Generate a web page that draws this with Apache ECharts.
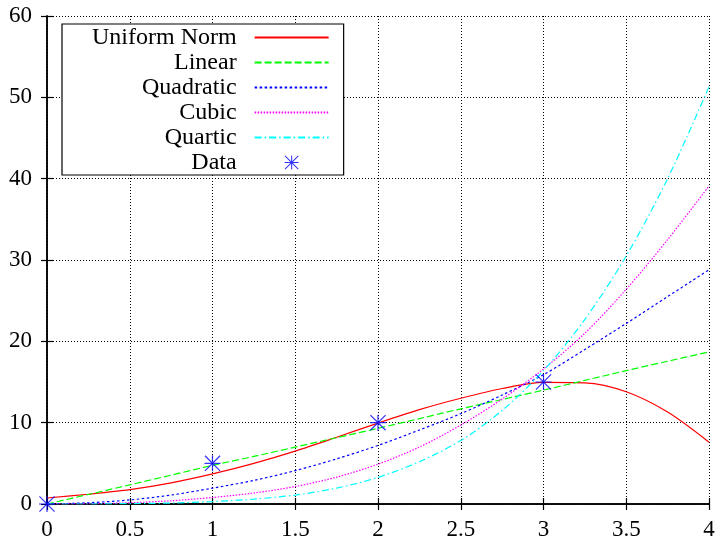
<!DOCTYPE html>
<html>
<head>
<meta charset="utf-8">
<script src="https://cdn.jsdelivr.net/npm/echarts@6/dist/echarts.min.js"></script>
<style>html,body{margin:0;padding:0;background:#fff}#c{width:719px;height:541px}</style>
</head>
<body>
<div id="c"></div>
<script>
const xValues = [0, 0.25, 0.5, 0.75, 1, 1.25, 1.5, 1.75, 2, 2.25, 2.5, 2.75, 3, 3.25, 3.5, 3.75, 4];
const uniformNorm = [0.74, 1.2, 1.76, 2.6, 3.7, 5.0, 6.5, 8.2, 9.95, 11.6, 13.0, 14.2, 14.95, 14.9, 13.8, 11.3, 7.6];
const linear = [0, 1.17, 2.35, 3.55, 4.75, 5.85, 7.0, 8.15, 9.3, 10.5, 11.7, 12.85, 14.0, 15.2, 16.4, 17.55, 18.7];
const quadratic = [0, 0.15, 0.5, 1.1, 1.95, 2.9, 4.1, 5.55, 7.2, 9.1, 11.1, 13.4, 15.9, 19.0, 22.2, 25.5, 28.8];
const cubic = [0, 0.03, 0.15, 0.4, 0.8, 1.35, 2.15, 3.3, 4.9, 7.0, 9.7, 12.9, 16.6, 21.0, 26.4, 32.5, 39.1];
const quartic = [0, 0, 0.05, 0.12, 0.3, 0.6, 1.1, 1.95, 3.27, 5.2, 7.8, 11.5, 16.4, 22.7, 30.5, 40.0, 51.3];
const dataX = [0, 1, 2, 3];
const dataY = [0, 5, 10, 15];
const seriesNames = ['Uniform Norm', 'Linear', 'Quadratic', 'Cubic', 'Quartic', 'Data'];

const pair = (xs, ys) => xs.map((x, i) => [x, ys[i]]);
const FONT = "'Liberation Serif', 'Times New Roman', serif";
const star = 'path://M9.25 0L10.75 0L10.75 20L9.25 20Z M0 9.25L20 9.25L20 10.75L0 10.75Z M1.06 0L20 18.94L18.94 20L0 1.06Z M18.94 0L20 1.06L1.06 20L0 18.94Z';

function lineSeries(name, ys, color, type) {
  return {
    name: name, type: 'line', data: pair(xValues, ys), smooth: 0.3, showSymbol: false, symbol: 'none',
    xAxisIndex: 0, yAxisIndex: 0,
    lineStyle: { color: color, width: 1.2, type: type }, itemStyle: { color: color },
    emphasis: { disabled: true }, animation: false, z: 3
  };
}

const chart = echarts.init(document.getElementById('c'), null, { renderer: 'canvas' });
const axisCommon = {
  axisLine: { show: true, lineStyle: { color: '#000', width: 1.5 } },
  axisTick: { show: true, inside: true, length: 6, lineStyle: { color: '#000', width: 1.2 } },
  splitLine: { show: false }
};
const legendData = seriesNames.map((n, i) => i < 5 ? { name: n, itemStyle: { opacity: 0 } } : { name: n });
chart.setOption({
  animation: false,
  backgroundColor: '#fff',
  grid: { left: 47, right: 10, top: 16, bottom: 36, containLabel: false },
  textStyle: { fontFamily: FONT },
  legend: {
    orient: 'vertical', align: 'right', left: 62, top: 24,
    padding: [1, 14, 0, 30],
    itemWidth: 74, itemHeight: 14, itemGap: 0,
    backgroundColor: '#fff', borderColor: '#000', borderWidth: 1.2,
    textStyle: { fontFamily: FONT, fontSize: 24, color: '#000', lineHeight: 25, padding: [0, 13, 0, 0] },
    selectedMode: false,
    data: legendData
  },
  xAxis: [
    Object.assign({}, axisCommon, {
      type: 'value', min: 0, max: 4, interval: 0.5, position: 'bottom',
      axisLabel: { fontFamily: FONT, fontSize: 23, color: '#000', margin: 14 },
      splitLine: { show: true, lineStyle: { color: '#000', width: 1, type: [1, 2] } }
    }),
    Object.assign({}, axisCommon, {
      type: 'value', min: 0, max: 4, interval: 0.5, position: 'top',
      axisLabel: { show: false }
    })
  ],
  yAxis: [
    Object.assign({}, axisCommon, {
      type: 'value', min: 0, max: 60, interval: 10, position: 'left',
      axisLabel: { fontFamily: FONT, fontSize: 23, color: '#000', margin: 15 },
      splitLine: { show: true, lineStyle: { color: '#000', width: 1, type: [1, 2] } }
    }),
    Object.assign({}, axisCommon, {
      type: 'value', min: 0, max: 60, interval: 10, position: 'right',
      axisLabel: { show: false }
    })
  ],
  series: [
    lineSeries(seriesNames[0], uniformNorm, '#ff0000', 'solid'),
    lineSeries(seriesNames[1], linear, '#00ff00', [7, 3]),
    lineSeries(seriesNames[2], quadratic, '#0000ff', [2.5, 2.5]),
    lineSeries(seriesNames[3], cubic, '#ff00ff', [1.5, 1.5]),
    lineSeries(seriesNames[4], quartic, '#00ffff', [7, 3, 1.5, 3]),
    {
      name: seriesNames[5], type: 'scatter', data: pair(dataX, dataY),
      symbol: star, symbolSize: 16, clip: false,
      itemStyle: { color: '#0000ff' }, emphasis: { disabled: true }, z: 5
    }
  ]
});
</script>
</body>
</html>
